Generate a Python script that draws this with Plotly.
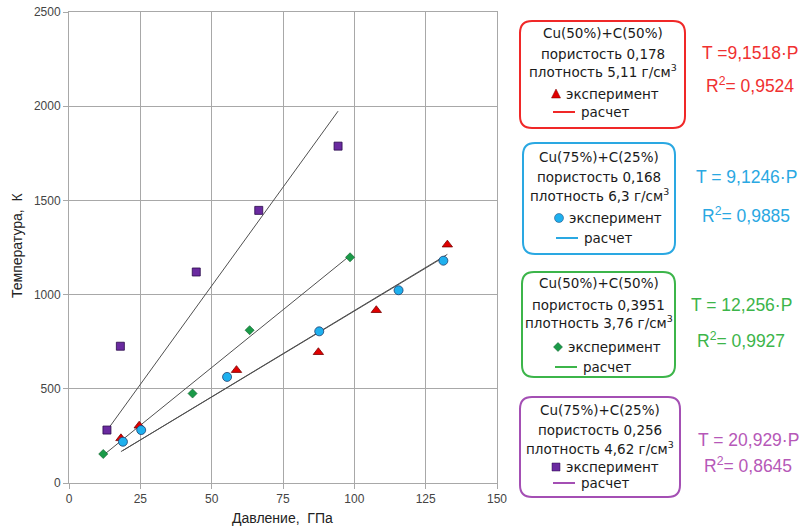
import plotly.graph_objects as go

# ---- data ----
red_x = [18.2, 24.6, 58.7, 87.4, 107.7, 132.6]
red_y = [237, 304, 599, 694, 917, 1265]
blue_x = [18.9, 25.3, 55.4, 87.7, 115.5, 131.2]
blue_y = [219, 281, 563, 805, 1023, 1180]
green_x = [12.0, 43.3, 63.3, 98.5]
green_y = [154, 475, 811, 1198]
purple_x = [13.3, 18.0, 44.6, 66.5, 94.3]
purple_y = [281, 726, 1120, 1447, 1788]

slopes = {"red": 9.1518, "blue": 9.1246, "green": 12.256, "purple": 20.929}
r2 = {"red": "0,9524", "blue": "0,9885", "green": "0,9927", "purple": "0,8645"}
eq_text = {"red": "T =9,1518·P", "blue": "T = 9,1246·P", "green": "T = 12,256·P", "purple": "T = 20,929·P"}
box_titles = ["Cu(50%)+C(50%)", "Cu(75%)+C(25%)", "Cu(50%)+C(50%)", "Cu(75%)+C(25%)"]
porosity = ["пористость 0,178", "пористость 0,168", "пористость 0,3951", "пористость 0,256"]
density = ["плотность 5,11 г/см<sup>3</sup>", "плотность 6,3 г/см<sup>3</sup>",
           "плотность 3,76 г/см<sup>3</sup>", "плотность 4,62 г/см<sup>3</sup>"]

x_ticks = [0, 25, 50, 75, 100, 125, 150]
y_ticks = [0, 500, 1000, 1500, 2000, 2500]

# ---- layout geometry ----
W, H = 808, 532
ML, MR, MT, MB = 69, 311, 12, 49
PW, PH = W - ML - MR, H - MT - MB


def px(x):
    return (x - ML) / PW


def py(y):
    return (H - MB - y) / PH


fig = go.Figure()

series = [
    ("red", red_x, red_y, dict(symbol="triangle-up", size=9, color="#e00000",
                               line=dict(color="#7a0000", width=0.8))),
    ("blue", blue_x, blue_y, dict(symbol="circle", size=9, color="#1eb0ee",
                                  line=dict(color="#1f3f6f", width=0.8))),
    ("green", green_x, green_y, dict(symbol="diamond", size=7, color="#1a9a48",
                                     line=dict(color="#0c5a28", width=0.6))),
    ("purple", purple_x, purple_y, dict(symbol="square", size=8, color="#6a2aa0",
                                        line=dict(color="#2a0a4a", width=0.8))),
]

# fitted lines (T = k*P) over the data range
for name, xs, ys, mk in series:
    x0, x1 = min(xs), max(xs)
    k = slopes[name]
    fig.add_trace(go.Scatter(x=[x0, x1], y=[k * x0, k * x1], mode="lines",
                             line=dict(color="#505050", width=1), showlegend=False,
                             hoverinfo="skip"))

for name, xs, ys, mk in series:
    fig.add_trace(go.Scatter(x=xs, y=ys, mode="markers", marker=mk, showlegend=False))

grid = "#a8a8a8"
tickfont = dict(family="Liberation Sans, Arial", size=12, color="#444444")
fig.update_xaxes(range=[0, 150], tickvals=x_ticks, showgrid=True, gridcolor=grid, gridwidth=1,
                 showline=True, linecolor=grid, mirror=True, ticks="outside", ticklen=5,
                 tickcolor=grid, zeroline=False, automargin=False, tickfont=tickfont)
fig.update_yaxes(range=[0, 2500], tickvals=y_ticks, showgrid=True, gridcolor=grid, gridwidth=1,
                 showline=True, linecolor=grid, mirror=True, ticks="outside", ticklen=5,
                 tickcolor=grid, zeroline=False, automargin=False, tickfont=tickfont)

shapes = []
annotations = []


def rounded_box(x0, y0, x1, y1, r, color):
    # coordinates in pixels (y down)
    pts = [
        f"M {px(x0 + r)},{py(y0)}",
        f"L {px(x1 - r)},{py(y0)}",
        f"Q {px(x1)},{py(y0)} {px(x1)},{py(y0 + r)}",
        f"L {px(x1)},{py(y1 - r)}",
        f"Q {px(x1)},{py(y1)} {px(x1 - r)},{py(y1)}",
        f"L {px(x0 + r)},{py(y1)}",
        f"Q {px(x0)},{py(y1)} {px(x0)},{py(y1 - r)}",
        f"L {px(x0)},{py(y0 + r)}",
        f"Q {px(x0)},{py(y0)} {px(x0 + r)},{py(y0)}",
        "Z",
    ]
    shapes.append(dict(type="path", xref="paper", yref="paper", path=" ".join(pts),
                       line=dict(color=color, width=2), fillcolor="white", layer="above"))


def text(x, y, s, size, color, family="DejaVu Sans", xanchor="center", angle=0):
    annotations.append(dict(x=px(x), y=py(y), xref="paper", yref="paper", text=s,
                            showarrow=False, xanchor=xanchor, yanchor="middle", textangle=angle,
                            font=dict(family=family, size=size, color=color)))


# axis titles
text(282, 518, "Давление,  ГПа", 14, "#222222", family="Liberation Sans, Arial")
text(17, 246, "Температура,  К", 14, "#222222", family="Liberation Sans, Arial", angle=-90)

box_colors = {"red": "#f02828", "blue": "#2aa8e2", "green": "#3cb54a", "purple": "#a44fb4"}
eq_colors = {"red": "#f03030", "blue": "#2aa8e2", "green": "#3cb54a", "purple": "#b658b8"}

boxes = [
    # name, x0, y0, x1, y1, line ys (title, por, dens, exp, calc), eq x, eq y, r2 y
    ("red", 520, 21, 685, 128, [33, 54, 71, 94, 112], 750, 53, 85),
    ("blue", 523, 143, 675, 254, [157, 177, 195, 218, 238], 746, 177, 215),
    ("green", 522, 272, 675, 377, [283, 305, 322, 347, 367], 741, 305, 340),
    ("purple", 520, 397, 680, 497, [410, 430, 448, 467, 483], 748, 440, 465),
]

dark = "#1a1a1a"
for i, (name, x0, y0, x1, y1, ys, ex, ey, ry) in enumerate(boxes):
    rounded_box(x0, y0, x1, y1, 12, box_colors[name])
    cx = (x0 + x1) / 2
    text(cx, ys[0], box_titles[i], 13.5, dark)
    text(cx, ys[1], porosity[i], 13.5, dark)
    text(cx, ys[2], density[i], 13.5, dark)
    # experiment marker
    mx, my = x0 + 36, ys[3]
    col = series[[s[0] for s in series].index(name)][3]["color"]
    if name == "red":
        shapes.append(dict(type="path", xref="paper", yref="paper", layer="above",
                           path=f"M {px(mx-4.5)},{py(my+4)} L {px(mx+4.5)},{py(my+4)} L {px(mx)},{py(my-5)} Z",
                           fillcolor=col, line=dict(color="#7a0000", width=0.5)))
    elif name == "blue":
        shapes.append(dict(type="circle", xref="paper", yref="paper", layer="above",
                           x0=px(mx - 4.5), x1=px(mx + 4.5), y0=py(my + 4.5), y1=py(my - 4.5),
                           fillcolor=col, line=dict(color="#1f3f6f", width=0.5)))
    elif name == "green":
        shapes.append(dict(type="path", xref="paper", yref="paper", layer="above",
                           path=f"M {px(mx)},{py(my-4.5)} L {px(mx+4.5)},{py(my)} L {px(mx)},{py(my+4.5)} L {px(mx-4.5)},{py(my)} Z",
                           fillcolor=col, line=dict(color="#0c5a28", width=0.5)))
    else:
        shapes.append(dict(type="rect", xref="paper", yref="paper", layer="above",
                           x0=px(mx - 4), x1=px(mx + 4), y0=py(my + 4), y1=py(my - 4),
                           fillcolor=col, line=dict(color="#2a0a4a", width=0.5)))
    text(mx + 8, ys[3], "эксперимент", 13.5, dark, xanchor="left")
    # calc line
    lx0 = x0 + 33
    shapes.append(dict(type="line", xref="paper", yref="paper", layer="above",
                       x0=px(lx0), x1=px(lx0 + 22), y0=py(ys[4]), y1=py(ys[4]),
                       line=dict(color=box_colors[name], width=2)))
    text(lx0 + 26, ys[4], "расчет", 13.5, dark, xanchor="left")
    # equation
    text(ex, ey, eq_text[name], 17.5, eq_colors[name], family="Liberation Sans, Arial")
    text(ex, ry, "R<sup>2</sup>= " + r2[name], 17.5, eq_colors[name], family="Liberation Sans, Arial")

fig.update_layout(width=W, height=H, margin=dict(l=ML, r=MR, t=MT, b=MB),
                  paper_bgcolor="white", plot_bgcolor="white",
                  shapes=shapes, annotations=annotations, showlegend=False)

fig.write_html("out.html", config={"displayModeBar": False},
               post_script="document.body.style.margin='0px';")
